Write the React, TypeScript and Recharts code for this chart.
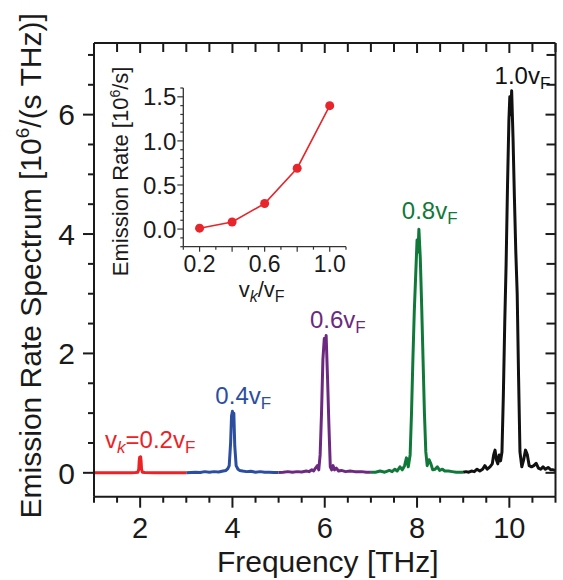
import { LineChart, Line, XAxis, YAxis, ReferenceDot, Label } from "recharts";

const FONT = "'Liberation Sans', Arial, Helvetica, sans-serif";
const INK = "#1a1a1a";

// emission spectra, [frequency (THz), rate (10^6 / (s THz))]
const spectrum02: [number, number][] = [
  [1.0, 0], [1.2, 0], [1.4, 0], [1.6, 0], [1.8, 0], [1.9, 0.005], [1.95, 0.01], [1.97, 0.06],
  [1.98, 0.2], [1.99, 0.26], [2.0, 0.19], [2.01, 0.27], [2.02, 0.2], [2.03, 0.06], [2.05, 0.01],
  [2.1, 0.005], [2.3, 0], [2.6, 0], [2.8, 0], [3.0, 0],
];
const spectrum04: [number, number][] = [
  [3.0, 0], [3.1, 0.005], [3.2, 0.01], [3.3, 0.005], [3.4, 0.02], [3.5, 0.01], [3.6, 0.02],
  [3.7, 0.015], [3.8, 0.03], [3.86, 0.04], [3.9, 0.07], [3.93, 0.12], [3.96, 0.5], [3.98, 0.95],
  [4.0, 1.03], [4.01, 0.9], [4.03, 1.0], [4.05, 0.45], [4.08, 0.12], [4.12, 0.06], [4.16, 0.04],
  [4.22, 0.03], [4.3, 0.02], [4.4, 0.025], [4.5, 0.01], [4.6, 0.02], [4.7, 0.01], [4.8, 0.01],
  [4.9, 0.005], [5.0, 0.005],
];
const spectrum06: [number, number][] = [
  [5.0, 0.005], [5.1, 0.01], [5.2, 0.02], [5.3, 0.01], [5.4, 0.02], [5.5, 0.015], [5.6, 0.03],
  [5.66, 0.02], [5.72, 0.05], [5.76, 0.03], [5.8, 0.08], [5.84, 0.12], [5.87, 0.05], [5.9, 0.3],
  [5.93, 1.0], [5.96, 1.9], [5.99, 2.25], [6.01, 2.1], [6.03, 2.3], [6.06, 1.6], [6.09, 0.8],
  [6.12, 0.1], [6.15, 0.05], [6.18, 0.12], [6.21, 0.05], [6.25, 0.08], [6.3, 0.03], [6.36, 0.04],
  [6.45, 0.02], [6.55, 0.03], [6.65, 0.02], [6.8, 0.02], [6.9, 0.01], [7.0, 0.01],
];
const spectrum08: [number, number][] = [
  [7.0, 0.01], [7.1, 0.01], [7.2, 0.03], [7.3, 0.01], [7.4, 0.04], [7.46, 0.02], [7.52, 0.06],
  [7.57, 0.03], [7.63, 0.1], [7.68, 0.05], [7.73, 0.12], [7.77, 0.25], [7.81, 0.1], [7.85, 0.3],
  [7.88, 1.0], [7.91, 1.9], [7.94, 2.7], [7.97, 3.3], [8.0, 3.9], [8.02, 3.7], [8.04, 4.08],
  [8.07, 3.6], [8.1, 2.8], [8.13, 1.9], [8.16, 1.0], [8.19, 0.35], [8.22, 0.12], [8.26, 0.22],
  [8.3, 0.15], [8.34, 0.05], [8.39, 0.06], [8.44, 0.1], [8.49, 0.04], [8.55, 0.06], [8.6, 0.03],
  [8.68, 0.03], [8.76, 0.02], [8.85, 0.01], [9.0, 0.01],
];
const spectrum10: [number, number][] = [
  [9.0, 0.01], [9.06, 0.02], [9.12, 0.01], [9.18, 0.03], [9.24, 0.02], [9.3, 0.06], [9.36, 0.03],
  [9.42, 0.06], [9.47, 0.12], [9.52, 0.06], [9.58, 0.1], [9.63, 0.15], [9.66, 0.3], [9.69, 0.38],
  [9.72, 0.22], [9.75, 0.15], [9.78, 0.3], [9.81, 0.2], [9.84, 0.35], [9.87, 1.3], [9.9, 2.5],
  [9.93, 3.5], [9.96, 4.8], [9.99, 5.9], [10.01, 6.3], [10.03, 6.0], [10.05, 6.4], [10.08, 5.6],
  [10.11, 4.6], [10.14, 3.7], [10.17, 3.0], [10.2, 1.6], [10.23, 0.35], [10.27, 0.1], [10.31, 0.22],
  [10.35, 0.38], [10.39, 0.3], [10.43, 0.12], [10.48, 0.1], [10.53, 0.12], [10.58, 0.16],
  [10.63, 0.08], [10.68, 0.06], [10.73, 0.1], [10.78, 0.06], [10.84, 0.09], [10.9, 0.05],
  [10.95, 0.05], [11.0, 0.04],
];

const seriesColors = ["#ec2227", "#2c4ea0", "#6b2a7f", "#10793a", "#111111"];
const spectra = [spectrum02, spectrum04, spectrum06, spectrum08, spectrum10];

// peak annotations (text start, baseline) in data units
const tagFreq = [1.24, 3.63, 5.68, 7.67, 9.68];
const tagRate = [0.42, 1.15, 2.43, 4.25, 6.52];
const tagText = ["=0.2v", "0.4v", "0.6v", "0.8v", "1.0v"];

// inset: total emission rate vs v_k / v_F
const velocityRatio = [0.2, 0.4, 0.6, 0.8, 1.0];
const emissionRate = [0.01, 0.08, 0.29, 0.69, 1.4];

const freqTicks = [1, 1.5, 2, 2.5, 3, 3.5, 4, 4.5, 5, 5.5, 6, 6.5, 7, 7.5, 8, 8.5, 9, 9.5, 10, 10.5, 11];
const freqMajor = [2, 4, 6, 8, 10];
const rateTicks = [0, 0.5, 1, 1.5, 2, 2.5, 3, 3.5, 4, 4.5, 5, 5.5, 6, 6.5, 7];
const rateMajor = [0, 2, 4, 6];
const ratioTicks = [0.1, 0.2, 0.3, 0.4, 0.5, 0.6, 0.7, 0.8, 0.9, 1.0, 1.1];
const ratioMajor = [0.2, 0.4, 0.6, 0.8, 1.0];
const ratioLabels = [0.2, 0.6, 1.0];
const insetRateTicks = [-0.2, -0.1, 0, 0.1, 0.2, 0.3, 0.4, 0.5, 0.6, 0.7, 0.8, 0.9, 1.0, 1.1, 1.2, 1.3, 1.4, 1.5, 1.6];
const insetRateMajor = [0, 0.5, 1.0, 1.5];

const has = (arr: number[] | undefined, v: number) => !!arr && arr.some((m) => Math.abs(m - v) < 1e-6);

type TickCfg = {
  side: "bottom" | "top" | "left" | "right";
  majors: number[];
  labels?: number[];
  majorLen: number;
  minorLen: number;
  gap?: number;
  fontSize?: number;
  fmt?: (v: number) => string;
  stroke?: string;
  width?: number;
};

// axis drawn with tickSize 0, so (x, y) is the point on the axis line
function makeTick(cfg: TickCfg) {
  return (props: any) => {
    const { x, y, payload } = props;
    const v = payload.value;
    const len = has(cfg.majors, v) ? cfg.majorLen : cfg.minorLen;
    const text = cfg.fmt ? cfg.fmt(v) : String(v);
    const show = has(cfg.labels, v);
    const lineStyle = { stroke: cfg.stroke ?? INK, strokeWidth: cfg.width ?? 2 };
    const textStyle = { fontFamily: FONT, fontSize: cfg.fontSize ?? 30, fill: INK };
    if (cfg.side === "bottom" || cfg.side === "top") {
      return (
        <g>
          <line x1={x} x2={x} y1={y} y2={y + len} {...lineStyle} />
          {cfg.side === "bottom" && show && (
            <text x={x} y={y + (cfg.gap ?? 0)} dy="0.71em" textAnchor="middle" {...textStyle}>{text}</text>
          )}
        </g>
      );
    }
    return (
      <g>
        <line x1={x} x2={x - len} y1={y} y2={y} {...lineStyle} />
        {cfg.side === "left" && show && (
          <text x={x - (cfg.gap ?? 0)} y={y} dy="0.36em" textAnchor="end" {...textStyle}>{text}</text>
        )}
      </g>
    );
  };
}

const PeakTag = ({ viewBox, color, text, withK }: any) => {
  const x = viewBox?.x ?? 0;
  const y = viewBox?.y ?? 0;
  return (
    <text x={x} y={y} fill={color} fontFamily={FONT} fontSize={24}>
      {withK ? (
        <>
          <tspan>v</tspan>
          <tspan fontSize={17} fontStyle="italic" dy={5}>k</tspan>
          <tspan dy={-5}>{text}</tspan>
        </>
      ) : (
        <tspan>{text}</tspan>
      )}
      <tspan fontSize={17} dy={5}>F</tspan>
    </text>
  );
};

const axisLine = { stroke: INK, strokeWidth: 2 };

function Inset() {
  const data = velocityRatio.map((r, i) => ({ ratio: r, rate: emissionRate[i] }));
  const insetAxis = { stroke: "#333", strokeWidth: 1.3 };
  return (
    <div style={{ position: "absolute", left: 90, top: 50 }}>
      <LineChart width={270} height={262} data={data} margin={{ top: 38, right: 14, bottom: 15.3, left: 0 }}>
        <XAxis
          dataKey="ratio" type="number" domain={[0.1, 1.1]} allowDataOverflow ticks={ratioTicks} interval={0}
          height={50} tickSize={0} tickMargin={0} tickLine={false} axisLine={insetAxis}
          tick={makeTick({ side: "bottom", majors: ratioMajor, labels: ratioLabels, majorLen: 5, minorLen: 3, gap: 9, fontSize: 23, fmt: (v) => v.toFixed(1), stroke: "#333", width: 1.2 })}
        >
          <Label
            content={({ viewBox }: any) => (
              <text x={viewBox.x + viewBox.width / 2 - 3} y={viewBox.y + 50} textAnchor="middle" fontFamily={FONT} fontSize={22} fill={INK}>
                <tspan>v</tspan>
                <tspan fontSize={16} fontStyle="italic" dy={5}>k</tspan>
                <tspan dy={-5}>/v</tspan>
                <tspan fontSize={16} dy={5}>F</tspan>
              </text>
            )}
          />
        </XAxis>
        <YAxis
          type="number" domain={[-0.2, 1.6]} allowDataOverflow ticks={insetRateTicks} interval={0}
          width={93.3} tickSize={0} tickMargin={0} tickLine={false} axisLine={insetAxis}
          tick={makeTick({ side: "left", majors: insetRateMajor, labels: insetRateMajor, majorLen: 6, minorLen: 3, gap: 7, fontSize: 24, fmt: (v) => v.toFixed(1), stroke: "#333", width: 1.2 })}
        >
          <Label
            content={({ viewBox }: any) => {
              const cy = viewBox.y + viewBox.height / 2 + 4;
              return (
                <text transform={`translate(38, ${cy}) rotate(-90)`} textAnchor="middle" fontFamily={FONT} fontSize={22} fill={INK}>
                  Emission Rate [10<tspan fontSize={14} dy={-8}>6</tspan><tspan dy={8}>/s]</tspan>
                </text>
              );
            }}
          />
        </YAxis>
        <Line
          dataKey="rate" stroke="#e8252b" strokeWidth={1.6} isAnimationActive={false}
          dot={{ r: 4.5, fill: "#e8252b", stroke: "#e8252b", strokeWidth: 0 }}
        />
      </LineChart>
    </div>
  );
}

export default function App() {
  return (
    <div style={{ position: "absolute", left: 0, top: 0, width: 563, height: 580, background: "#fff" }}>
      <LineChart width={563} height={580} margin={{ top: 42, right: 6.5, bottom: 38.3, left: 0 }}>
        <XAxis
          xAxisId="main" dataKey="f" type="number" domain={[1, 11]} allowDataOverflow ticks={freqTicks} interval={0}
          height={45} tickSize={0} tickMargin={0} tickLine={false} axisLine={axisLine}
          tick={makeTick({ side: "bottom", majors: freqMajor, labels: freqMajor, majorLen: 11, minorLen: 6, gap: 21, fontSize: 29 })}
        >
          <Label
            content={({ viewBox }: any) => (
              <text x={viewBox.x + viewBox.width / 2 + 3} y={viewBox.y + 75} textAnchor="middle" fontFamily={FONT} fontSize={30} fill={INK}>
                Frequency [THz]
              </text>
            )}
          />
        </XAxis>
        <XAxis
          xAxisId="top" orientation="top" dataKey="f" type="number" domain={[1, 11]} allowDataOverflow ticks={freqTicks} interval={0}
          height={1} tickSize={0} tickMargin={0} tickLine={false} axisLine={axisLine}
          tick={makeTick({ side: "top", majors: freqMajor, majorLen: 10, minorLen: 9 })}
        />
        <YAxis
          yAxisId="main" type="number" domain={[-0.4, 7.2]} allowDataOverflow ticks={rateTicks} interval={0}
          width={94} tickSize={0} tickMargin={0} tickLine={false} axisLine={axisLine}
          tick={makeTick({ side: "left", majors: rateMajor, labels: rateMajor, majorLen: 11, minorLen: 6, gap: 19 })}
        >
          <Label
            content={({ viewBox }: any) => {
              const cy = viewBox.y + viewBox.height / 2 - 4;
              return (
                <text transform={`translate(41, ${cy}) rotate(-90)`} textAnchor="middle" fontFamily={FONT} fontSize={30} fill={INK}>
                  Emission Rate Spectrum [10<tspan fontSize={19} dy={-12}>6</tspan><tspan dy={12}>/(s THz)]</tspan>
                </text>
              );
            }}
          />
        </YAxis>
        <YAxis
          yAxisId="right" orientation="right" type="number" domain={[-0.4, 7.2]} allowDataOverflow ticks={rateTicks} interval={0}
          width={1} tickSize={0} tickMargin={0} tickLine={false} axisLine={axisLine}
          tick={makeTick({ side: "right", majors: rateMajor, majorLen: 10, minorLen: 9 })}
        />
        {spectra.map((s, i) => (
          <Line
            key={i}
            xAxisId={i === 4 ? "top" : "main"} yAxisId={i === 4 ? "right" : "main"}
            data={s.map(([f, r]) => ({ f, r }))}
            dataKey="r" type="linear" dot={false}
            stroke={seriesColors[i]} strokeWidth={3} strokeLinejoin="round"
            isAnimationActive={false}
          />
        ))}
        {tagText.map((t, i) => (
          <ReferenceDot
            key={t}
            xAxisId="main" yAxisId="main"
            x={tagFreq[i]} y={tagRate[i]} r={0} fill="none" stroke="none"
            label={<PeakTag color={seriesColors[i]} text={t} withK={i === 0} />}
          />
        ))}
      </LineChart>
      <Inset />
    </div>
  );
}
